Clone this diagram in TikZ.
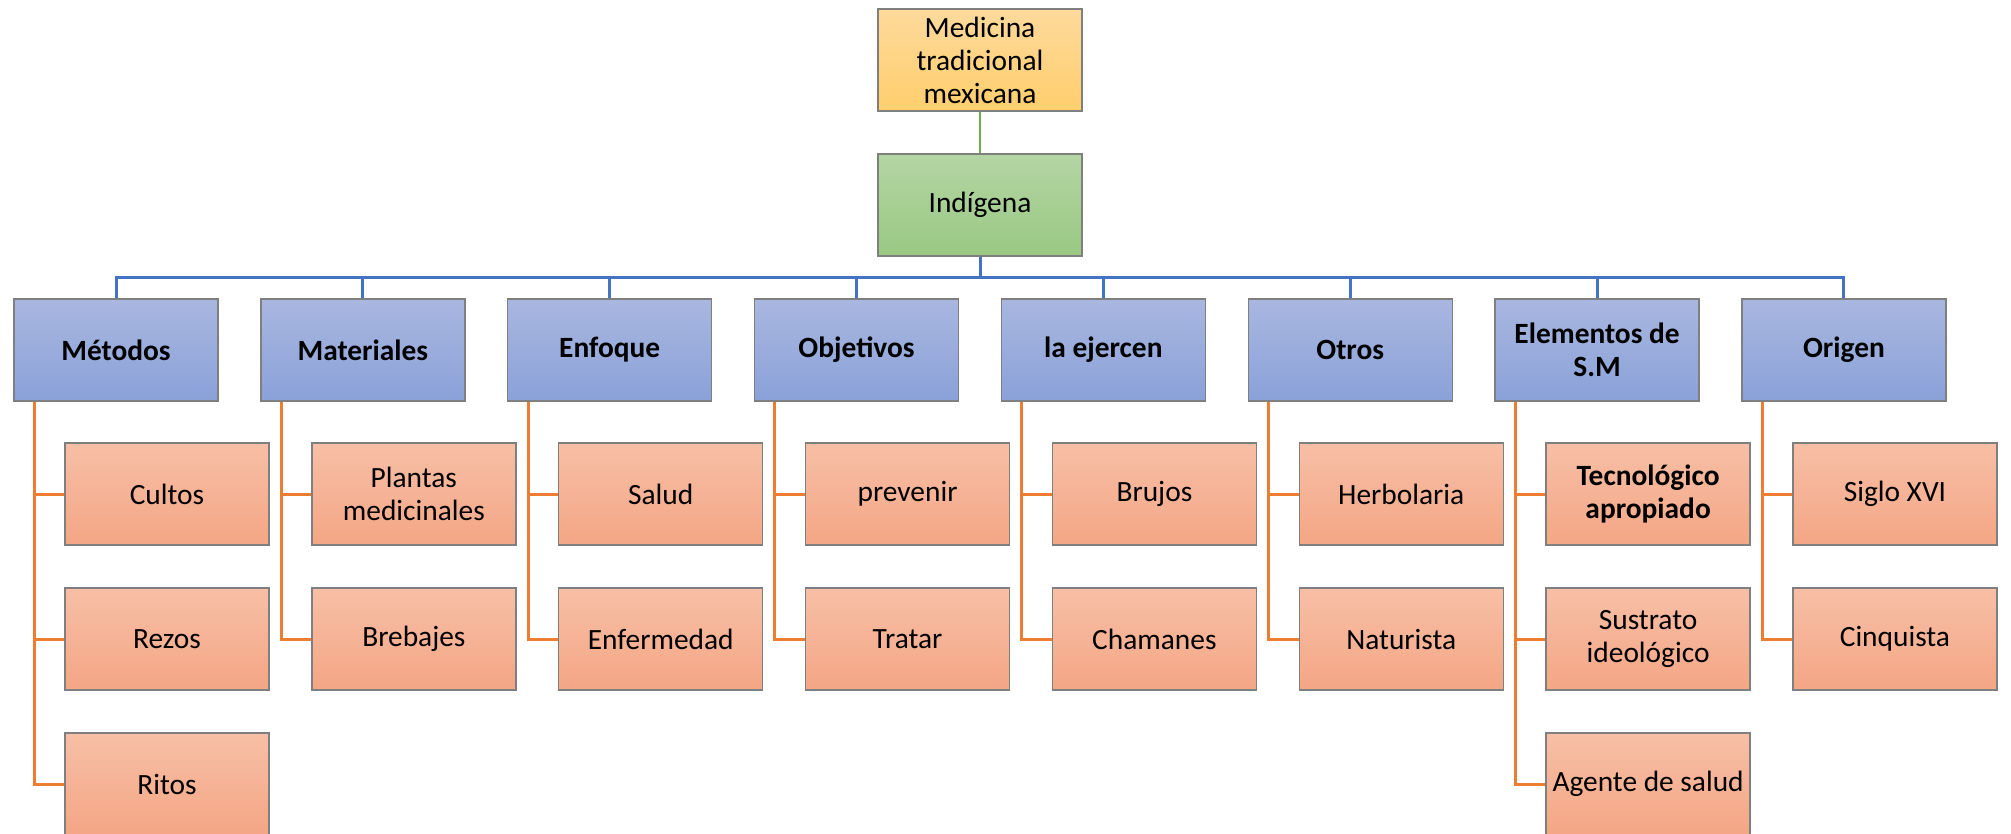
\documentclass[tikz,border=0pt]{standalone}
\usepackage{fontspec}
\setmainfont{Carlito}
\definecolor{boxgray}{HTML}{7F7F7F}
\definecolor{topA}{HTML}{FDDA9C}
\definecolor{topB}{HTML}{FFCE6C}
\definecolor{grnA}{HTML}{B4D5A4}
\definecolor{grnB}{HTML}{9AC883}
\definecolor{bluA}{HTML}{A9B7E0}
\definecolor{bluB}{HTML}{8AA1D8}
\definecolor{orA}{HTML}{F7BFA6}
\definecolor{orB}{HTML}{F4A685}
\definecolor{lnG}{HTML}{70AD47}
\definecolor{lnB}{HTML}{4472C4}
\definecolor{lnO}{HTML}{ED7D31}
\begin{document}
\begin{tikzpicture}[x=1pt,y=-1pt,
  box/.style={draw=boxgray, line width=1.3pt, minimum width=204pt, minimum height=102pt, inner sep=2pt, align=center, font=\fontsize{29.4}{33}\selectfont, text=black},
  topbox/.style={box, top color=topA, bottom color=topB},
  grnbox/.style={box, top color=grnA, bottom color=grnB},
  lvl/.style={box, top color=bluA, bottom color=bluB, font=\fontsize{29.4}{33}\selectfont\bfseries},
  leaf/.style={box, top color=orA, bottom color=orB},
  gline/.style={draw=lnG, line width=2.2pt},
  bline/.style={draw=lnB, line width=3pt},
  oline/.style={draw=lnO, line width=3pt},
]
\useasboundingbox (0,0) rectangle (2011,834);

\coordinate (topc) at (980,60);
\coordinate (indc) at (980,205);

\node[topbox] (top) at (topc) {Medicina\\tradicional\\mexicana};
\node[grnbox] (ind) at (indc) {Indígena};

\def\colstep{246.85}
\node[lvl] (met) at ({116+0*\colstep},350) {Métodos};
\node[lvl] (mat) at ({116+1*\colstep},350) {Materiales};
\node[lvl] (enf) at ({116+2*\colstep},350) {Enfoque};
\node[lvl] (obj) at ({116+3*\colstep},350) {Objetivos};
\node[lvl] (eje) at ({116+4*\colstep},350) {la ejercen};
\node[lvl] (otr) at ({116+5*\colstep},350) {Otros};
\node[lvl] (ele) at ({116+6*\colstep},350) {Elementos de\\S.M};
\node[lvl] (ori) at ({116+7*\colstep},350) {Origen};

\node[leaf] (cul) at ({167+0*\colstep},494) {Cultos};
\node[leaf] (rez) at ({167+0*\colstep},639) {Rezos};
\node[leaf] (rit) at ({167+0*\colstep},784) {Ritos};
\node[leaf] (pla) at ({167+1*\colstep},494) {Plantas\\medicinales};
\node[leaf] (bre) at ({167+1*\colstep},639) {Brebajes};
\node[leaf] (sal) at ({167+2*\colstep},494) {Salud};
\node[leaf] (enm) at ({167+2*\colstep},639) {Enfermedad};
\node[leaf] (pre) at ({167+3*\colstep},494) {prevenir};
\node[leaf] (tra) at ({167+3*\colstep},639) {Tratar};
\node[leaf] (bru) at ({167+4*\colstep},494) {Brujos};
\node[leaf] (cha) at ({167+4*\colstep},639) {Chamanes};
\node[leaf] (her) at ({167+5*\colstep},494) {Herbolaria};
\node[leaf] (nat) at ({167+5*\colstep},639) {Naturista};
\node[leaf] (tec) at ({167+6*\colstep},494) {\bfseries Tecnológico\\\bfseries apropiado};
\node[leaf] (sus) at ({167+6*\colstep},639) {Sustrato\\ideológico};
\node[leaf] (age) at ({167+6*\colstep},784) {Agente de salud};
\node[leaf] (sig) at ({167+7*\colstep},494) {Siglo XVI};
\node[leaf] (cin) at ({167+7*\colstep},639) {Cinquista};

\draw[gline] (top.south) -- (ind.north);
\foreach \n in {met,mat,enf,obj,eje,otr,ele,ori}
  \draw[bline] (ind.south) -- ++(0,21) -| (\n.north);

\foreach \p/\c in {met/cul,met/rez,met/rit,mat/pla,mat/bre,enf/sal,enf/enm,obj/pre,obj/tra,eje/bru,eje/cha,otr/her,otr/nat,ele/tec,ele/sus,ele/age,ori/sig,ori/cin}
  \draw[oline] ([xshift=21pt]\p.south west) |- (\c.west);
\end{tikzpicture}
\end{document}
